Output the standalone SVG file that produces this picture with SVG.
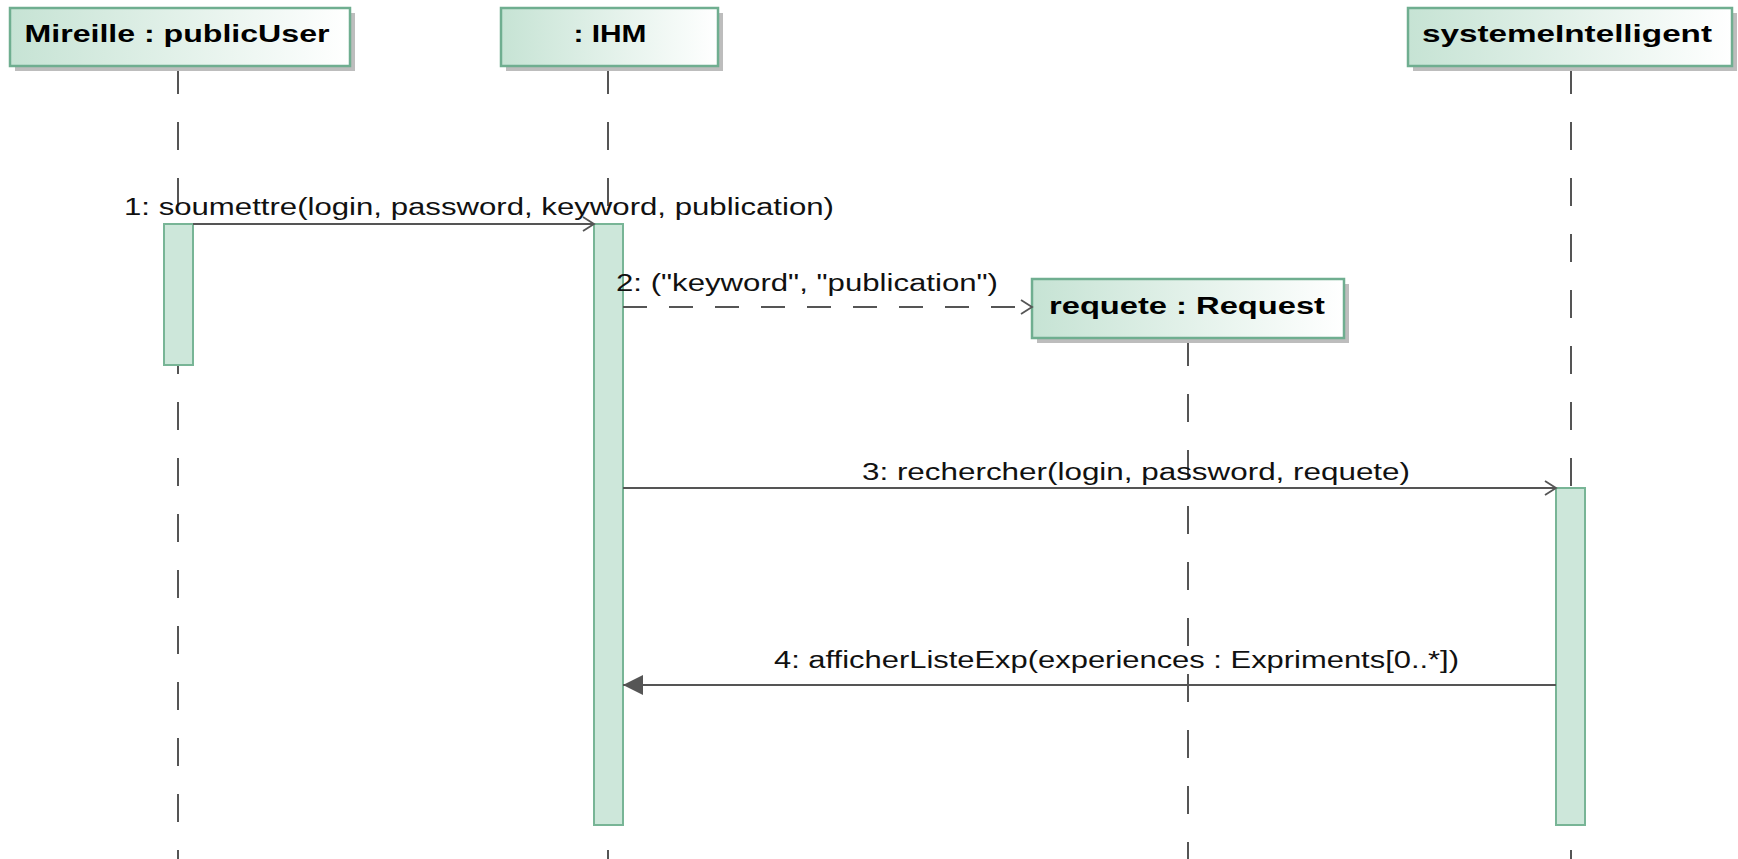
<svg xmlns="http://www.w3.org/2000/svg" width="1738" height="859" viewBox="0 0 1738 859">
<defs>
<linearGradient id="hg" x1="0" y1="0" x2="1" y2="0">
<stop offset="0" stop-color="#c6e3d4"/>
<stop offset="1" stop-color="#ffffff"/>
</linearGradient>
<marker id="open" markerWidth="14" markerHeight="16" refX="12" refY="8" orient="auto" markerUnits="userSpaceOnUse">
<path d="M1,1 L12,8 L1,15" fill="none" stroke="#555" stroke-width="1.8"/>
</marker>
<marker id="filled" markerWidth="22" markerHeight="22" refX="20" refY="11" orient="auto" markerUnits="userSpaceOnUse">
<path d="M0,1 L20,11 L0,21 Z" fill="#555"/>
</marker>
</defs>
<style>
.head{fill:url(#hg);stroke:#6fae90;stroke-width:2.5}
.shadow{fill:#bdbdbd}
.title{font-family:"Liberation Sans",Arial,sans-serif;font-weight:bold;font-size:23px;fill:#000}
.life{stroke:#555;stroke-width:2;stroke-dasharray:28 28;fill:none}
.act{fill:#cde7da;stroke:#78b596;stroke-width:2}
.msg{stroke:#555;stroke-width:2;fill:none}
.lbl{font-family:"Liberation Sans",Arial,sans-serif;font-size:23.5px;fill:#111}
</style>
<rect width="1738" height="859" fill="#fff"/>
<g id="lifelines">
<line class="life" x1="178" y1="66" x2="178" y2="859"/>
<line class="life" x1="608" y1="66" x2="608" y2="859"/>
<line class="life" x1="1571" y1="66" x2="1571" y2="859"/>
<line class="life" x1="1188" y1="338" x2="1188" y2="859"/>
</g>
<g id="mireille">
<rect class="shadow" x="15" y="13" width="340" height="58"/>
<rect class="head" x="10" y="8" width="340" height="58"/>
<text class="title" x="177" y="42" text-anchor="middle" textLength="305" lengthAdjust="spacingAndGlyphs">Mireille : publicUser</text>
<rect class="act" x="164" y="224" width="29" height="141"/>
</g>
<g id="ihm">
<rect class="shadow" x="506" y="13" width="217" height="58"/>
<rect class="head" x="501" y="8" width="217" height="58"/>
<text class="title" x="610" y="42" text-anchor="middle" textLength="73" lengthAdjust="spacingAndGlyphs">: IHM</text>
<rect class="act" x="594" y="224" width="29" height="601"/>
</g>
<g id="systemeIntelligent">
<rect class="shadow" x="1413" y="13" width="324" height="58"/>
<rect class="head" x="1408" y="8" width="324" height="58"/>
<text class="title" x="1567" y="42" text-anchor="middle" textLength="290" lengthAdjust="spacingAndGlyphs">systemeIntelligent</text>
<rect class="act" x="1556" y="488" width="29" height="337"/>
</g>
<g id="requete">
<rect class="shadow" x="1037" y="284" width="312" height="59"/>
<rect class="head" x="1032" y="279" width="312" height="59"/>
<text class="title" x="1187" y="314" text-anchor="middle" textLength="276" lengthAdjust="spacingAndGlyphs">requete : Request</text>
</g>
<g id="connectors">
<line class="msg" x1="193" y1="224" x2="594" y2="224" marker-end="url(#open)"/>
<text class="lbl" x="124" y="215" textLength="710" lengthAdjust="spacingAndGlyphs">1: soumettre(login, password, keyword, publication)</text>
<line class="msg" x1="623" y1="307" x2="1032" y2="307" stroke-dasharray="24 22" marker-end="url(#open)"/>
<text class="lbl" x="616" y="291" textLength="382" lengthAdjust="spacingAndGlyphs">2: ("keyword", "publication")</text>
<line class="msg" x1="623" y1="488" x2="1556" y2="488" marker-end="url(#open)"/>
<text class="lbl" x="862" y="480" textLength="548" lengthAdjust="spacingAndGlyphs">3: rechercher(login, password, requete)</text>
<line class="msg" x1="1556" y1="685" x2="623" y2="685" marker-end="url(#filled)"/>
<text class="lbl" x="774" y="668" textLength="685" lengthAdjust="spacingAndGlyphs">4: afficherListeExp(experiences : Expriments[0..*])</text>
</g>
</svg>
